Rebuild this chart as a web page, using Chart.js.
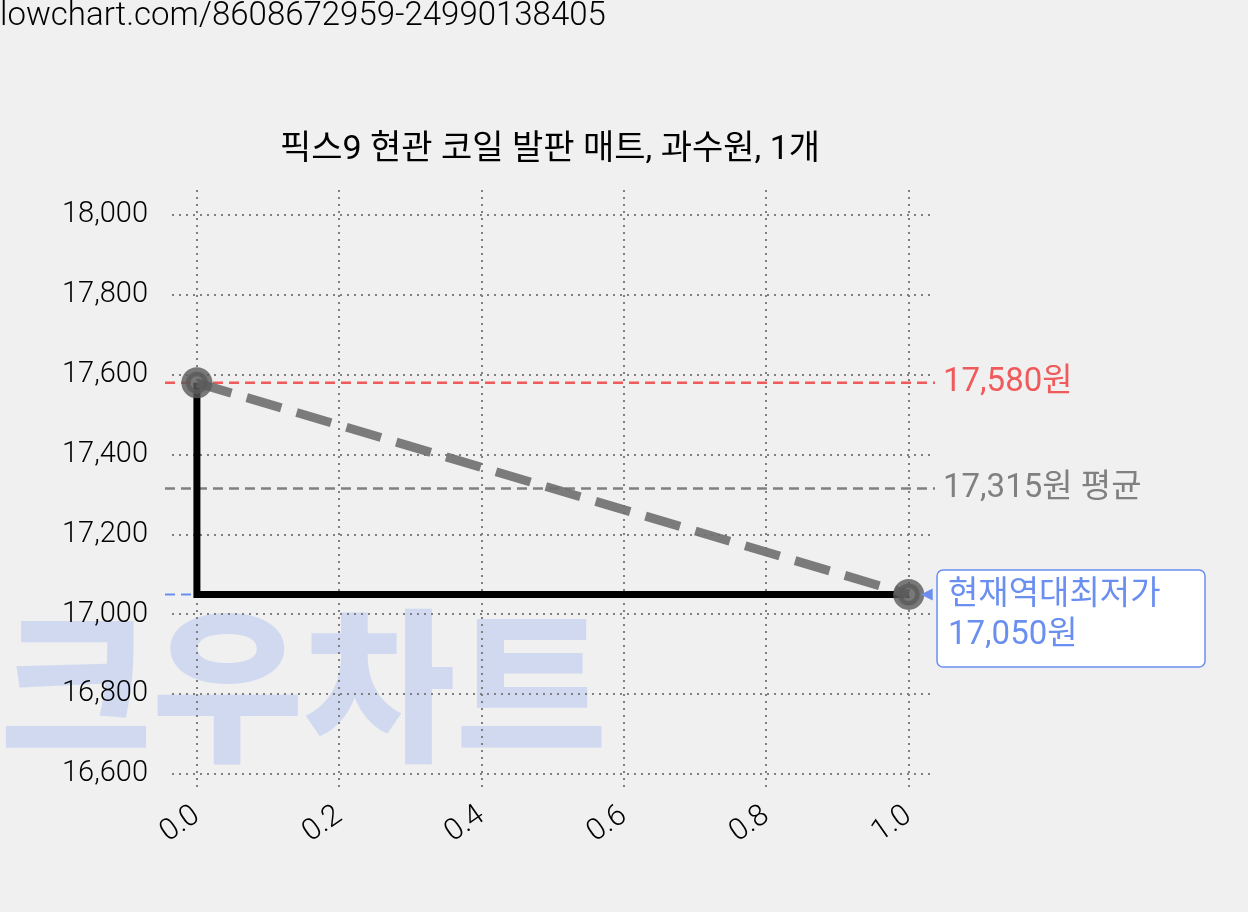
<!DOCTYPE html>
<html><head><meta charset="utf-8">
<script src="https://cdn.jsdelivr.net/npm/chart.js@4"></script>
<style>body{margin:0;background:#f0f0f0}canvas{display:block}</style>
</head><body><canvas id="c" width="1248" height="912"></canvas>
<script>
const title = "픽스9 현관 코일 발판 매트, 과수원, 1개";
const xValues = [0, 1];
const prices = [17580, 17050];
const stepX = [0, 0, 1];
const stepY = [17580, 17050, 17050];
const maxPrice = 17580, avgPrice = 17315, minPrice = 17050;
const xTicks = [0, 0.2, 0.4, 0.6, 0.8, 1.0];
const yTicks = [16600, 16800, 17000, 17200, 17400, 17600, 17800, 18000];
const FONT = "Roboto, 'Noto Sans CJK KR', sans-serif";

const deco = {
  id: 'deco',
  beforeDraw(c) {
    const ctx = c.ctx;
    ctx.save();
    ctx.fillStyle = '#f0f0f0'; ctx.fillRect(0, 0, c.width, c.height);
    ctx.font = "900 165px 'Noto Sans CJK KR'"; ctx.fillStyle = 'rgba(190,205,240,0.65)';
    ctx.textBaseline = 'alphabetic'; ctx.textAlign = 'left';
    ctx.fillText('크우차트', 0, 748);
    ctx.restore();
  },
  beforeDatasetsDraw(c) {
    const ctx = c.ctx, x = c.scales.x, y = c.scales.y;
    const L = 165, R = 935;
    ctx.save(); ctx.lineWidth = 2.5; ctx.setLineDash([10, 6]);
    const hl = (v, col, x2) => { ctx.strokeStyle = col; ctx.beginPath(); ctx.moveTo(L, y.getPixelForValue(v)); ctx.lineTo(x2, y.getPixelForValue(v)); ctx.stroke(); };
    hl(maxPrice, '#f05a5a', R); hl(avgPrice, '#808080', R);
    ctx.lineWidth = 2; hl(minPrice, '#6a8ff0', x.getPixelForValue(1));
    ctx.restore();
  },
  afterDraw(c) {
    const ctx = c.ctx, y = c.scales.y, x = c.scales.x;
    ctx.save();
    ctx.textAlign = 'left';
    ctx.font = "300 33px " + FONT; ctx.fillStyle = '#000';
    ctx.textBaseline = 'top'; ctx.fillText('lowchart.com/8608672959-24990138405', 0, 0);
    ctx.textAlign = 'center'; ctx.textBaseline = 'middle';
    ctx.font = "34px " + FONT; ctx.fillText(title, 550, 150);
    ctx.textAlign = 'left';
    ctx.font = "33px " + FONT;
    ctx.fillStyle = '#f05a5a'; ctx.fillText(maxPrice.toLocaleString('en-US') + '원', 943, y.getPixelForValue(maxPrice));
    ctx.fillStyle = '#808080'; ctx.fillText(avgPrice.toLocaleString('en-US') + '원 평균', 943, y.getPixelForValue(avgPrice));
    const yb = y.getPixelForValue(minPrice);
    ctx.fillStyle = '#fff'; ctx.strokeStyle = '#6a8ff0'; ctx.lineWidth = 1.5;
    ctx.beginPath(); ctx.roundRect(937, 570, 268, 97, 6); ctx.fill(); ctx.stroke();
    ctx.fillStyle = '#6a8ff0';
    ctx.fillText('현재역대최저가', 948, 596); ctx.fillText(minPrice.toLocaleString('en-US') + '원', 948, 636);
    ctx.beginPath(); const px = x.getPixelForValue(1) + 12;
    ctx.moveTo(px, yb); ctx.lineTo(px + 12, yb - 6); ctx.lineTo(px + 12, yb + 6); ctx.fill();
    ctx.restore();
  }
};

new Chart(document.getElementById('c'), {
  type: 'scatter',
  data: { datasets: [
    { data: stepX.map((v, i) => ({x: v, y: stepY[i]})), showLine: true, borderColor: '#000', borderWidth: 7, pointRadius: 0, order: 2 },
    { data: xValues.map((v, i) => ({x: v, y: prices[i]})), showLine: true, borderColor: 'rgba(110,110,110,0.9)', borderWidth: 9, borderDash: [36, 16],
      pointRadius: 11, pointBackgroundColor: 'rgba(90,90,90,0.8)', pointBorderColor: 'rgba(90,90,90,0.8)', order: 1 }
  ]},
  options: {
    responsive: false, animation: false, devicePixelRatio: 1,
    layout: { padding: { left: 0, right: 313, top: 190, bottom: 0 } },
    plugins: { legend: { display: false }, tooltip: { enabled: false } },
    scales: {
      x: { type: 'linear', min: -0.035, max: 1.037,
        afterBuildTicks: s => { s.ticks = xTicks.map(v => ({value: v})); },
        afterFit: s => { s.height = 122; },
        border: { display: false, dash: [2, 5] },
        grid: { color: '#808080', lineWidth: 2, tickLength: 0 },
        ticks: { maxRotation: 35, minRotation: 35, font: { size: 30, family: FONT, weight: 300 }, color: '#000', padding: 8, callback: v => v.toFixed(1) } },
      y: { min: 16560, max: 18063,
        afterBuildTicks: s => { s.ticks = yTicks.map(v => ({value: v})); },
        afterFit: s => { s.width = 172; },
        border: { display: false, dash: [2, 5] },
        grid: { color: '#808080', lineWidth: 2, tickLength: 0 },
        ticks: { font: { size: 29, family: FONT, weight: 300 }, color: '#000', padding: 24, callback: v => v.toLocaleString('en-US') } }
    }
  },
  plugins: [deco]
});
</script></body></html>
